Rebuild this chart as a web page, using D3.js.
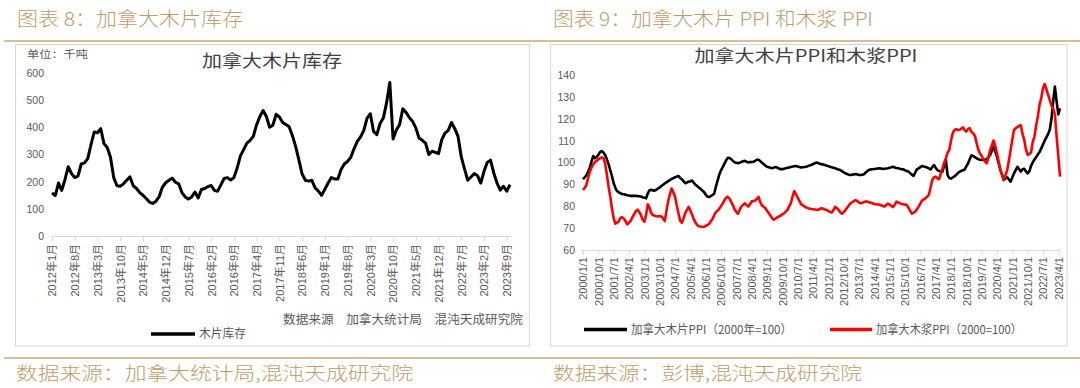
<!DOCTYPE html>
<html><head><meta charset="utf-8">
<script src="https://cdn.jsdelivr.net/npm/d3@7"></script>
<style>body{margin:0;background:#fff;}svg{display:block}</style>
</head><body>
<svg id="c" width="1080" height="388"></svg>
<script>
// ---------- Data: Canadian wood chip inventory (thousand tonnes), monthly from 2012-01 ----------
const invStartYear = 2012;
const inventory = [
  159,149,195,168,208,255,230,215,220,265,
  269,285,336,383,380,395,340,326,290,215,
  185,183,192,205,218,185,175,160,150,138,
  125,120,128,145,180,196,205,213,198,192,
  160,144,136,144,162,140,171,175,182,186,
  168,165,188,212,215,206,215,250,295,318,
  342,352,368,410,440,462,440,400,408,448,
  438,418,410,402,370,330,280,228,205,202,
  205,177,165,150,172,195,215,210,210,245,
  265,275,290,322,348,365,389,434,450,385,
  373,414,434,490,565,357,390,410,468,455,
  436,422,398,361,352,342,300,312,308,303,
  355,379,389,418,395,367,291,247,205,217,
  230,222,195,238,271,279,232,195,169,183,
  165,189
];
const invTickLabels = ["2012年1月","2012年8月","2013年3月","2013年10月","2014年5月","2014年12月","2015年7月",
  "2016年2月","2016年9月","2017年4月","2017年11月","2018年6月","2019年1月","2019年8月","2020年3月",
  "2020年10月","2021年5月","2021年12月","2022年7月","2023年2月","2023年9月"];
const invYTicks = [0,100,200,300,400,500,600];

// ---------- Data: PPI (2000=100), monthly from 2000-01 ----------
const ppiStartYear = 2000;
const chipPPI = [
  92.4,93.3,94.2,95.8,97.8,100.5,103,102,102.6,103.5,
  104.8,105.3,104.6,103.5,101.5,99.3,96.5,93.8,90.6,88.5,
  87,86.4,86,85.7,85.5,85.3,85.1,85,84.8,84.9,
  84.8,84.8,84.7,84.6,84.5,84.2,84,83.7,85.8,87.3,
  87.6,87.3,87.2,87.6,88.2,88.6,89.3,89.9,90.5,91,
  91.5,92,92.5,92.9,93.3,93.6,93.9,93,92.4,91.5,
  90.6,90.9,91.3,91.5,91.8,90.8,89.9,89.3,88.6,88,
  87.3,86.6,85.4,84.5,84.3,84.7,85.2,85.8,89,91.8,
  94.5,96.5,97.9,99.4,101,102.2,102.1,101.6,100.8,100.1,
  99.9,99.7,100,100.3,100.6,100.8,100.4,100.1,100.2,100.3,
  100.4,100.8,101.3,101.3,100.7,100,99.4,98.7,98.1,97.9,
  97.6,97.4,97.7,98,97.7,97.3,97,97,97.2,97.4,
  97.6,97.8,98,98.2,98.3,98.4,98.2,98,97.8,97.9,
  98,98.1,98.4,98.7,98.9,99.3,99.7,100,99.8,99.5,
  99.3,99.1,98.9,98.6,98.4,98.1,97.9,97.6,97.4,97.1,
  96.8,96.6,96.1,95.6,95.1,94.8,94.5,94.3,94.5,94.6,
  94.8,94.6,94.4,94.3,94.5,94.7,95.5,96.2,96.7,96.9,
  97,97.1,97.2,97.3,97.4,97.3,97.1,97.2,97.3,97.4,
  97.6,97.9,98.1,97.8,97.5,97.4,97.2,97,96.9,96.5,
  96.2,95.9,95.2,94.5,93.9,95.4,96.9,97.4,97.9,98.4,
  98.2,98,97.8,97.3,96.9,97.9,98.9,97.7,96.6,96.2,
  96,95.9,98.5,101.2,94.3,93,92.7,93.2,93.7,94.3,
  95.2,95.8,96.2,96.5,96.8,98.3,99.6,101.5,103.3,103,
  102.5,102,101.6,101.3,101.2,101.3,101.4,101.5,102.5,103.5,
  105.4,107.3,105,102.7,99.6,96.6,94.3,92,92.7,93.3,
  92.3,91.3,93.2,95.1,96.6,98.1,97,95.9,97,97.2,
  96,95.1,96,98.5,100.1,101.4,102.5,103.7,104.8,106.5,
  108.3,110,111.5,113,115,120,128,134.7,128,122,
  124.8
];
const pulpPPI = [
  87.5,88.5,89.8,93,95.8,97.8,99.2,100.3,100.8,101.5,
  102,102.4,102,99.5,94.5,89,84.5,79,74.5,72.1,
  72.6,73.2,74.8,75,74.4,73.2,71.8,72.5,73.5,75,
  76.5,77.8,78.5,77.5,76,74,73,76,81,79.5,
  77,76,75.8,75.5,75.4,75.6,75.4,74.5,73.3,78,
  82.5,85.5,88.2,86.5,84.5,80.5,77,73.5,72.5,74.5,
  76.9,78.4,79.8,78,76.3,74.2,72.6,71.5,70.9,70.8,
  70.6,70.7,71.1,71.5,72,73.2,74.2,76,77.4,78,
  79,80.1,81.4,82.8,84,84.4,83.5,82,80.5,78.6,
  77.5,76.6,78.5,80,80.7,81.4,80.6,80,81,82.3,
  82.4,82.7,83.4,84.4,82,80.5,79.8,79.2,78,77,
  75.8,74.6,73.9,74.4,75,75.4,75.8,76.4,76.8,77.6,
  78.4,80,81.5,84.5,87,85.5,84,82.5,81,80.5,
  80,79.5,79.2,79,78.8,78.7,78.6,78.5,78.4,78.8,
  79.2,78.9,78.6,78.4,77.9,77.5,77.2,78.3,79.8,79.2,
  78.4,77.4,76.6,77.4,78.3,79.4,80.4,81.4,81.9,82.4,
  82.9,82.4,81.8,81.4,81.7,82,82.3,82.1,81.9,81.7,
  81.4,81.1,81,80.9,80.8,80.5,80.2,79.9,80.6,81.3,
  80.8,80.2,79.7,80.8,82.2,81.8,81.5,81.1,81,80.8,
  80.7,79.4,78,76.7,77.1,77.6,78.7,79.9,81.3,82.7,
  83.2,83.7,84.5,85.3,88.5,92.1,93.2,93.6,92.8,92.4,
  95,97.4,100,102,104.5,105.8,110,113.4,114.8,115.3,
  115,114.9,115.5,116.1,114.8,114.2,115.3,115.7,114,113.4,
  112.3,109,106,104.2,103.1,101.4,100.5,99.7,102.5,105.8,
  108,110.1,107.5,104.3,100.5,96.6,94.5,92.1,94.3,96.6,
  101,105.8,110.5,114.9,115.7,116.2,116.8,117,113,110.4,
  106,103.5,103.9,104.6,109.5,111.9,117,121,126.5,129.5,
  134,135.9,133.5,131,128.5,126,124.5,122,112,103,
  93.6
];
const ppiTickLabels = ["2000/1/1","2000/10/1","2001/7/1","2002/4/1","2003/1/1","2003/10/1","2004/7/1",
  "2005/4/1","2006/1/1","2006/10/1","2007/7/1","2008/4/1","2009/1/1","2009/10/1","2010/7/1","2011/4/1",
  "2012/1/1","2012/10/1","2013/7/1","2014/4/1","2015/1/1","2015/10/1","2016/7/1","2017/4/1","2018/1/1",
  "2018/10/1","2019/7/1","2020/4/1","2021/1/1","2021/10/1","2022/7/1","2023/4/1"];
const ppiYTicks = [60,70,80,90,100,110,120,130,140];

// ---------- Texts ----------
const leftHeader = "图表 8：加拿大木片库存";
const rightHeader = "图表 9：加拿大木片 PPI 和木浆 PPI";
const leftFooter = "数据来源：加拿大统计局,混沌天成研究院";
const rightFooter = "数据来源：彭博,混沌天成研究院";
const leftTitle = "加拿大木片库存";
const rightTitle = "加拿大木片PPI和木浆PPI";
const leftUnit = "单位：千吨";
const leftNote = "数据来源　加拿大统计局　混沌天成研究院";
const invSeriesName = "木片库存";
const chipSeriesName = "加拿大木片PPI（2000年=100）";
const pulpSeriesName = "加拿大木浆PPI（2000=100）";

// ---------- Drawing ----------
const svg = d3.select("#c");
const GOLD = "#BE9C6A", GOLDLINE = "#C9A878", GREY = "#595959", AXIS = "#D9D9D9";
const CJK = "'Noto Sans CJK SC','Noto Sans',sans-serif";
const NUM = "'Liberation Sans','Noto Sans CJK SC',sans-serif";

function txt(g, s, x, y, o) {
  const t = g.append("text").attr("x", x).attr("y", y).text(s)
    .attr("font-family", o.ff || CJK).attr("font-size", o.fs).attr("fill", o.fill || GREY)
    .attr("text-anchor", o.anchor || "start");
  if (o.fw) t.attr("font-weight", o.fw);
  if (o.len) t.attr("textLength", o.len).attr("lengthAdjust", "spacingAndGlyphs");
  return t;
}

// gold rules
svg.append("line").attr("x1",4).attr("x2",1080).attr("y1",41).attr("y2",41).attr("stroke",GOLDLINE).attr("stroke-width",1.6);
svg.append("line").attr("x1",4).attr("x2",1080).attr("y1",358).attr("y2",358).attr("stroke",GOLDLINE).attr("stroke-width",1.6);
// headers & footers
txt(svg, leftHeader, 17, 26, {fs:19, fill:GOLD, len:226, fw:300});
txt(svg, rightHeader, 553, 26, {fs:19, fill:GOLD, len:320, fw:300});
txt(svg, leftFooter, 16, 380, {fs:18, fill:GOLD, len:397, fw:300});
txt(svg, rightFooter, 553, 380, {fs:18, fill:GOLD, len:309, fw:300});

// frames
svg.append("rect").attr("x",15.5).attr("y",44.5).attr("width",514).attr("height",301.5).attr("fill","none").attr("stroke","#D6D6D6");
svg.append("rect").attr("x",550.5).attr("y",44.5).attr("width",516.5).attr("height",301.5).attr("fill","none").attr("stroke","#D6D6D6");

// ===== Left chart =====
const L = svg.append("g");
const xL = d3.scalePoint().domain(d3.range(inventory.length)).range([52, 510]);
const yL = d3.scaleLinear().domain([0, 600]).range([236, 73]);
txt(L, leftUnit, 27, 58, {fs:10, len:61});
txt(L, leftTitle, 272, 67, {fs:17, anchor:"middle", fill:"#404040", len:140});

const yAxL = L.append("g").attr("transform","translate(44,0)")
  .call(d3.axisLeft(yL).tickValues(invYTicks).tickSize(0).tickPadding(0));
yAxL.select(".domain").remove();
yAxL.selectAll("text").attr("font-family",NUM).attr("font-size",10.5).attr("fill",GREY);

const invTickIdx = invTickLabels.map((_, i) => i * 7);
const xAxL = L.append("g").attr("transform","translate(0,236)")
  .call(d3.axisBottom(xL).tickValues(invTickIdx).tickFormat((d, i) => invTickLabels[i]).tickSize(5).tickSizeOuter(0));
xAxL.select(".domain").attr("stroke",AXIS).attr("d","M52,0.5H512");
xAxL.selectAll(".tick line").attr("stroke",AXIS);
xAxL.selectAll("text").attr("font-family",NUM).attr("font-size",11).attr("fill",GREY)
  .attr("transform","rotate(-90)").attr("text-anchor","end").attr("x",-8).attr("y",0).attr("dy","0.35em");

L.append("path").datum(inventory)
  .attr("d", d3.line().x((d, i) => xL(i)).y(d => yL(d)))
  .attr("fill","none").attr("stroke","#000").attr("stroke-width",3).attr("stroke-linejoin","round");

txt(L, leftNote, 283, 324, {fs:12, len:240});
L.append("line").attr("x1",151).attr("x2",195).attr("y1",334).attr("y2",334).attr("stroke","#000").attr("stroke-width",3.5);
txt(L, invSeriesName, 199, 338, {fs:12, len:47});

// ===== Right chart =====
const R = svg.append("g");
const xR = d3.scalePoint().domain(d3.range(chipPPI.length)).range([583, 1060]);
const yR = d3.scaleLinear().domain([60, 140]).range([250.2, 75]);
txt(R, rightTitle, 806, 62, {fs:17, anchor:"middle", fill:"#404040", len:223});

const yAxR = R.append("g").attr("transform","translate(575,0)")
  .call(d3.axisLeft(yR).tickValues(ppiYTicks).tickSize(0).tickPadding(0));
yAxR.select(".domain").remove();
yAxR.selectAll("text").attr("font-family",NUM).attr("font-size",10.5).attr("fill",GREY);

const ppiTickIdx = ppiTickLabels.map((_, i) => i * 9);
const xAxR = R.append("g").attr("transform","translate(0,250)")
  .call(d3.axisBottom(xR).tickValues(ppiTickIdx).tickFormat((d, i) => ppiTickLabels[i]).tickSize(5).tickSizeOuter(0));
xAxR.select(".domain").attr("stroke",AXIS).attr("d","M581,0.5H1061");
xAxR.selectAll(".tick line").attr("stroke",AXIS);
xAxR.selectAll("text").attr("font-family",NUM).attr("font-size",11).attr("fill",GREY)
  .attr("transform","rotate(-90)").attr("text-anchor","end").attr("x",-7).attr("y",0).attr("dy","0.35em");

const lineR = d3.line().x((d, i) => xR(i)).y(d => yR(d));
R.append("path").datum(chipPPI).attr("d", lineR)
  .attr("fill","none").attr("stroke","#000").attr("stroke-width",2.6).attr("stroke-linejoin","round");
R.append("path").datum(pulpPPI).attr("d", lineR)
  .attr("fill","none").attr("stroke","#FF0000").attr("stroke-width",2.6).attr("stroke-linejoin","round");

R.append("line").attr("x1",584).attr("x2",627).attr("y1",329.5).attr("y2",329.5).attr("stroke","#000").attr("stroke-width",3.5);
txt(R, chipSeriesName, 631, 334, {fs:12, len:161});
R.append("line").attr("x1",830).attr("x2",872).attr("y1",329.5).attr("y2",329.5).attr("stroke","#FF0000").attr("stroke-width",3.5);
txt(R, pulpSeriesName, 876, 334, {fs:12, len:146});
</script>
</body></html>
